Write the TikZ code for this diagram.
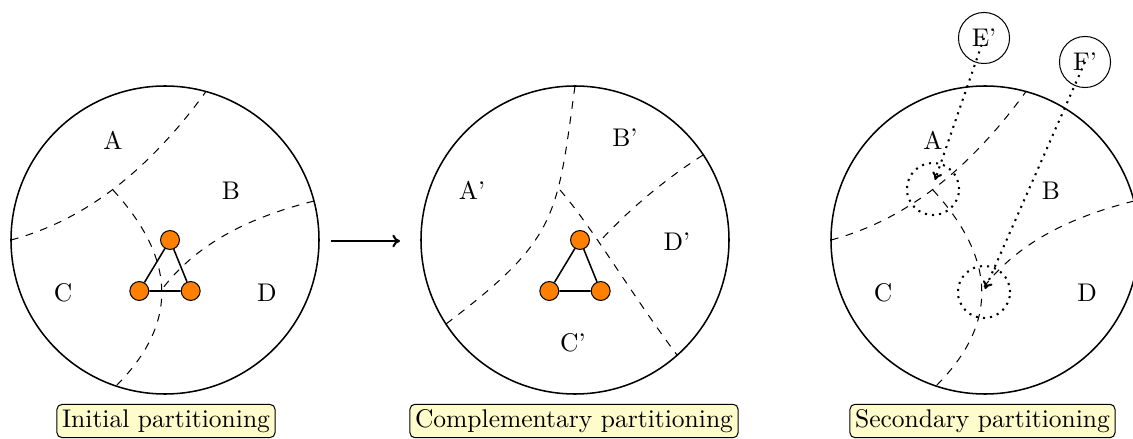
\documentclass[tikz,border=0pt]{standalone}
\usetikzlibrary{arrows.meta}
\begin{document}
\begin{tikzpicture}[x=0.3916pt,y=-0.3916pt,
  bigc/.style={draw,semithick},
  part/.style={dashed},
  vtx/.style={circle,draw,fill=orange,inner sep=0pt,minimum size=7.4pt},
  edge/.style={semithick},
  caption/.style={draw,fill=yellow!20,rounded corners=2pt,inner sep=2pt},
  tag/.style={circle,draw,inner sep=0pt,minimum size=20pt},
  zone/.style={circle,draw,dotted,thick,inner sep=0pt,minimum size=20.4pt},
  link/.style={dotted,thick,-{To[length=3pt,width=4pt]}},
  flow/.style={thick,-{To[length=3pt,width=5pt]}}]
\useasboundingbox (0,0) rectangle (1133,439);

% ---------- circle 1 ----------
\draw[bigc] (165,240) circle[radius=154];
\draw[part] (11,240) .. controls (82.3,221) and (146.7,173.3) .. (206,91.5);
\draw[part] (113,190) .. controls (176,259) and (179,323) .. (116,386);
\draw[part] (314,201) .. controls (255,216) and (200,240) .. (163,288);
\node (a1) at (113,140) {A};
\node (b1) at (231,191) {B};
\node (c1) at (63,293) {C};
\node (d1) at (267,293) {D};
\node[vtx] (u1) at (170,240) {};
\node[vtx] (v1) at (139.3,291) {};
\node[vtx] (w1) at (190.7,291) {};
\draw[edge] (u1) -- (v1) (u1) -- (w1) (v1) -- (w1);
\node[caption] (cap1) at (166,421) {Initial partitioning};

% ---------- arrow ----------
\coordinate (s) at (331,241);
\coordinate (t) at (400,241);
\draw[flow] (s) -- (t);

% ---------- circle 2 ----------
\draw[bigc] (575,240) circle[radius=154];
\draw[part] (575,86) .. controls (557,217) and (558,239) .. (446,324);
\draw[part] (560,190) .. controls (592,226.7) and (630.7,293.3) .. (677,355);
\draw[part] (703,155) .. controls (665.9,178.9) and (632,206.7) .. (601,240);
\node (a2) at (472,190) {A'};
\node (b2) at (625,138) {B'};
\node (c2) at (573,343) {C'};
\node (d2) at (677,242) {D'};
\node[vtx] (u2) at (580,240) {};
\node[vtx] (v2) at (549.3,291) {};
\node[vtx] (w2) at (600.7,291) {};
\draw[edge] (u2) -- (v2) (u2) -- (w2) (v2) -- (w2);
\node[caption] (cap2) at (574,421) {Complementary partitioning};

% ---------- circle 3 ----------
\draw[bigc] (985,240) circle[radius=154];
\begin{scope}[shift={(820,0)}]
\draw[part] (11,240) .. controls (82.3,221) and (146.7,173.3) .. (206,91.5);
\draw[part] (113,190) .. controls (176,259) and (179,323) .. (116,386);
\draw[part] (314,201) .. controls (255,216) and (200,240) .. (163,288);
\end{scope}
\node (a3) at (933,140) {A};
\node (b3) at (1051,191) {B};
\node (c3) at (883,293) {C};
\node (d3) at (1087,293) {D};
\node[zone] (z1) at (933,189) {};
\node[zone] (z2) at (984,292) {};
\node[tag] (e) at (984,38) {E'};
\node[tag] (f) at (1085,62) {F'};
\coordinate (ze) at (935,180);
\coordinate (zf) at (985,289);
\draw[link] (e.center) -- (ze);
\draw[link] (f.center) -- (zf);
\node[caption] (cap3) at (982.5,421) {Secondary partitioning};
\end{tikzpicture}
\end{document}
